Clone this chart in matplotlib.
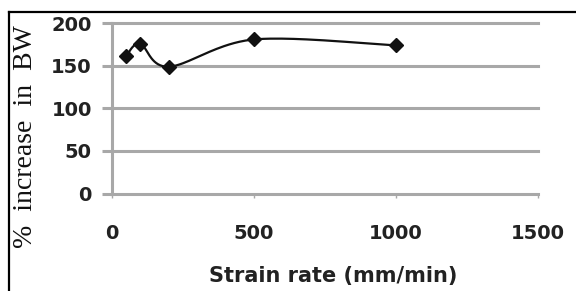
import matplotlib
matplotlib.use("Agg")
import matplotlib.pyplot as plt
from matplotlib.lines import Line2D
import numpy as np

# data
strain_rate = [50, 100, 200, 500, 1000]
bw_increase = [161, 176, 149, 181, 174]
x_ticks = [0, 500, 1000, 1500]
y_ticks = [0, 50, 100, 150, 200]


def smooth_curve(ax, xs, ys, n=40):
    # Excel-style smoothed line: Catmull-Rom bezier in screen space
    pts = ax.transData.transform(np.column_stack([xs, ys]))
    p = np.vstack([pts[0], pts, pts[-1]])
    out = []
    t = np.linspace(0, 1, n)[:, None]
    for i in range(1, len(p) - 2):
        p0, p1, p2, p3 = p[i - 1], p[i], p[i + 1], p[i + 2]
        c1 = p1 + (p2 - p0) / 6.0
        c2 = p2 - (p3 - p1) / 6.0
        seg = ((1 - t) ** 3) * p1 + 3 * ((1 - t) ** 2) * t * c1 \
            + 3 * (1 - t) * t ** 2 * c2 + t ** 3 * p2
        out.append(seg)
    out = np.vstack(out)
    return ax.transData.inverted().transform(out)


def main():
    fig = plt.figure(figsize=(5.76, 2.91), dpi=100)
    W, H = 576.0, 291.0
    ax = fig.add_axes([111.7 / W, 1 - 193.5 / H, (538 - 111.7) / W, (193.5 - 23.3) / H])

    ax.set_xlim(0, 1500)
    ax.set_ylim(0, 200)

    grid_color = "#a8a8a8"
    for y in y_ticks:
        ax.axhline(y, color=grid_color, lw=2.2, zorder=1, clip_on=False)

    curve = smooth_curve(ax, strain_rate, bw_increase)
    ax.plot(curve[:, 0], curve[:, 1], color="#111111", lw=1.6, zorder=3)
    ax.plot(strain_rate, bw_increase, linestyle="none", marker="D",
            markersize=7, color="#111111", zorder=4)

    for s in ["top", "right", "bottom"]:
        ax.spines[s].set_visible(False)
    ax.spines["left"].set_color(grid_color)
    ax.spines["left"].set_linewidth(2.2)

    ax.set_xticks(x_ticks)
    ax.set_yticks(y_ticks)
    ax.set_xticklabels([str(v) for v in x_ticks])
    ax.set_yticklabels([str(v) for v in y_ticks])
    ax.tick_params(axis="y", length=7.2, width=2.2, color=grid_color, pad=7.2,
                   labelsize=14, labelcolor="#222222")
    ax.tick_params(axis="x", length=3, width=1, color=grid_color, pad=19,
                   labelsize=14, labelcolor="#222222")
    for lab in ax.get_xticklabels() + ax.get_yticklabels():
        lab.set_fontweight("bold")

    fig.text(333 / W, 1 - 282 / H, "Strain rate (mm/min)", ha="center",
             va="baseline", fontsize=15, fontweight="bold", color="#222222")
    fig.text(25.6 / W, 1 - 136.5 / H, "%  increase  in  BW", rotation=90,
             ha="center", va="center", fontsize=20,
             family="Liberation Serif", color="#111111")

    # frame around the figure (left and top edges visible)
    fig.add_artist(Line2D([8.5 / W, 8.5 / W], [0, 1 - 11.7 / H],
                          transform=fig.transFigure, color="black", lw=1.6))
    fig.add_artist(Line2D([8.5 / W, 1], [1 - 11.7 / H, 1 - 11.7 / H],
                          transform=fig.transFigure, color="black", lw=1.6))

    fig.savefig("out.png", dpi=100)


if __name__ == "__main__":
    main()
